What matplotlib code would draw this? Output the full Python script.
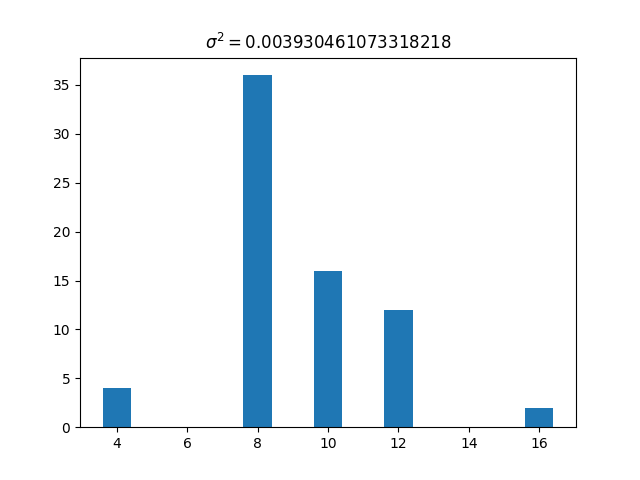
# libraries
import matplotlib
matplotlib.use('Agg')
import matplotlib.pyplot as plt

# data
values = [4, 8, 10, 12, 16]
counts = [4, 36, 16, 12, 2]
variance = '0.003930461073318218'

fig, ax = plt.subplots(figsize=(6.4, 4.8), dpi=100)
ax.bar(values, counts, width=0.8, color='#1f77b4')
ax.set_title(r'$\sigma^2 = ' + variance + '$')

plt.savefig('out.png')
